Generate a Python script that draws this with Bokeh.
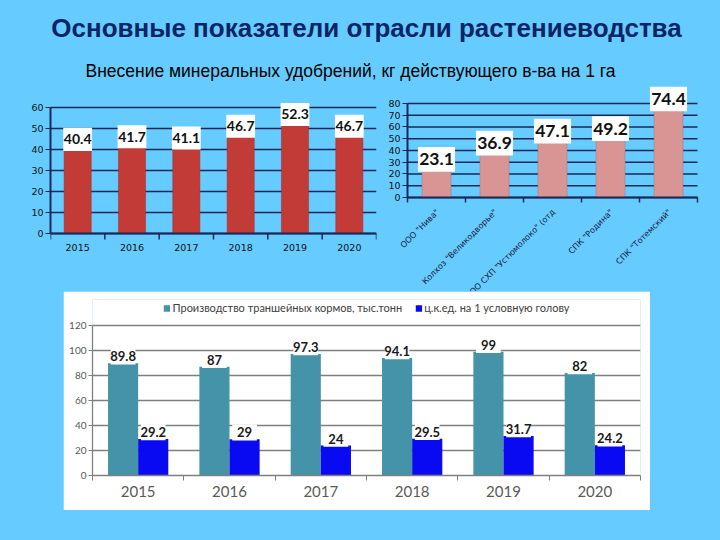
from math import pi
from bokeh.plotting import figure
from bokeh.models import Range1d, FixedTicker, Legend, LegendItem, Spacer
from bokeh.layouts import column, row
from bokeh.embed import file_html
from bokeh.resources import INLINE
from bokeh.core.properties import value

# ---------------- data ----------------
title_text = "Основные показатели отрасли растениеводства"
subtitle_text = "Внесение минеральных удобрений, кг действующего в-ва на 1 га"

years = ["2015", "2016", "2017", "2018", "2019", "2020"]
fert_by_year = [40.4, 41.7, 41.1, 46.7, 52.3, 46.7]
left_ticks = [0, 10, 20, 30, 40, 50, 60]

farms = ['ООО "Нива"', 'Колхоз "Великодворье"', 'ООО СХП "Устюмолоко" (отд',
         'СПК "Родина"', 'СПК "Тотемский"']
fert_by_farm = [23.1, 36.9, 47.1, 49.2, 74.4]
right_ticks = [0, 10, 20, 30, 40, 50, 60, 70, 80]

silage_prod = [89.8, 87, 97.3, 94.1, 99, 82]
feed_per_head = [29.2, 29, 24, 29.5, 31.7, 24.2]
bottom_ticks = [0, 20, 40, 60, 80, 100, 120]
legend_labels = ["Производство траншейных кормов, тыс.тонн",
                 "ц.к.ед. на 1 условную голову"]

# ---------------- styles ----------------
BG = "#66CCFF"
NAVY = "#0B2465"
GRIDNAVY = "#1A2757"
RED = "#C23B37"
PINK = "#D99594"
TEAL = "#4493A8"
BLUE = "#0A0AF2"
GRAY = "#7F7F7F"


def fmt(v):
    return f"{v:g}"


def base(fig, bg):
    fig.background_fill_color = bg
    fig.border_fill_color = bg
    fig.outline_line_color = None
    fig.xgrid.visible = False


def style_value_axis(ax, ticks):
    ax.ticker = FixedTicker(ticks=ticks)
    ax.bounds = (ticks[0], ticks[-1])
    ax.axis_line_color = GRIDNAVY
    ax.axis_line_width = 2
    ax.major_label_text_font = "DejaVu Sans"
    ax.major_label_text_font_size = "9.5px"
    ax.major_label_text_color = "#111111"
    ax.major_tick_line_color = GRIDNAVY
    ax.major_tick_out = 5
    ax.major_tick_in = 0
    ax.minor_tick_line_color = None
    ax.major_label_standoff = 2


def bars_and_boxes(p, xs, vals, bar_color, bar_line, box_w, box_dy, box_h, font_size):
    p.vbar(x=xs, top=vals, width=0.5, fill_color=bar_color, line_color=bar_line, line_width=0.5)
    p.rect(x=xs, y=[v + box_dy for v in vals], width=box_w, height=box_h,
           fill_color="white", line_color=None)
    p.text(x=xs, y=[v + box_dy for v in vals], text=[fmt(v) for v in vals],
           text_font=value("Lato"), text_font_style="bold", text_font_size=font_size,
           text_color="#111111", text_align="center", text_baseline="middle")


def category_base(p, n, tick_len):
    bounds = list(range(n + 1))
    p.segment(x0=[0], y0=[0], x1=[n], y1=[0], line_color=GRIDNAVY, line_width=2)
    p.segment(x0=bounds, y0=[0] * len(bounds), x1=bounds, y1=[-tick_len] * len(bounds),
              line_color=GRIDNAVY, line_width=1.5)


# ---------------- header ----------------
top = figure(width=720, height=84, x_range=Range1d(0, 720), y_range=Range1d(84, 0),
             output_backend="svg", toolbar_location=None, min_border=0,
             x_axis_location=None, y_axis_location=None)
base(top, BG)
top.grid.visible = False
top.text(x=[366], y=[27], text=[title_text], text_font=value("Liberation Sans"),
         text_font_style="bold", text_font_size="26px", text_color=NAVY,
         text_align="center", text_baseline="middle")
top.text(x=[350], y=[70], text=[subtitle_text], text_font=value("Liberation Sans"),
         text_font_size="17.5px", text_color="#000000",
         text_align="center", text_baseline="middle")

# ---------------- left chart ----------------
xl = [i + 0.5 for i in range(len(years))]
pl = figure(width=380, height=207, x_range=Range1d(0, len(years)),
            y_range=Range1d(-27.62, 70.95), output_backend="svg", toolbar_location=None,
            min_border_left=50, min_border_right=4, min_border_top=0, min_border_bottom=0,
            x_axis_location=None)
base(pl, BG)
bars_and_boxes(pl, xl, fert_by_year, RED, "#A52F2C", 0.53, 4.4, 11, "14px")
pl.ygrid.ticker = FixedTicker(ticks=left_ticks)
pl.ygrid.grid_line_color = GRIDNAVY
pl.ygrid.grid_line_width = 1.5
style_value_axis(pl.yaxis[0], left_ticks)
category_base(pl, len(years), 2.9)
pl.text(x=xl, y=[0] * len(xl), text=years, y_offset=14,
        text_font=value("DejaVu Sans"), text_font_size="9.5px", text_color="#111111",
        text_align="center", text_baseline="middle")

# ---------------- right chart ----------------
# frame spans the whole figure so that the slanted names are not cut at the axis
xr = [i + 0.5 for i in range(len(farms))]
pr = figure(width=340, height=207, x_range=Range1d(-27 / 58, len(farms) + 23 / 58),
            y_range=Range1d(-80.0, 96.17), output_backend="svg", toolbar_location=None,
            min_border=0, x_axis_location=None)
base(pr, BG)
pr.ygrid.visible = False
pr.segment(x0=[0] * len(right_ticks), y0=right_ticks, x1=[len(farms)] * len(right_ticks),
           y1=right_ticks, line_color=GRIDNAVY, line_width=1.5)
bars_and_boxes(pr, xr, fert_by_farm, PINK, "#B07372", 0.64, 9.4, 21, "17.5px")
style_value_axis(pr.yaxis[0], right_ticks)
pr.yaxis.fixed_location = 0
category_base(pr, len(farms), 4.3)
pr.text(x=xr, y=[0] * len(xr), text=farms, x_offset=1, y_offset=13, angle=pi / 4,
        text_font=value("DejaVu Sans"), text_font_size="8.2px", text_color="#1A1A40",
        text_align="right", text_baseline="middle")

# ---------------- bottom chart ----------------
xb = [i + 0.5 for i in range(len(years))]
pb = figure(width=587, height=219, x_range=Range1d(0, len(years)), y_range=Range1d(0, 140.8),
            output_backend="svg", toolbar_location=None,
            min_border_left=29, min_border_right=10, min_border_top=8, min_border_bottom=35)
base(pb, "white")
r1 = pb.vbar(x=[x - 0.165 for x in xb], top=silage_prod, width=0.33, fill_color=TEAL, line_color=None)
r2 = pb.vbar(x=[x + 0.165 for x in xb], top=feed_per_head, width=0.33, fill_color=BLUE, line_color=None)
for xs, vals in (([x - 0.165 for x in xb], silage_prod), ([x + 0.165 for x in xb], feed_per_head)):
    pb.rect(x=xs, y=[v + 5.4 for v in vals], width=0.27, height=12.8,
            fill_color="white", line_color=None)
    pb.text(x=xs, y=[v + 5.6 for v in vals], text=[fmt(v) for v in vals],
            text_font=value("Lato"), text_font_style="bold", text_font_size="13px",
            text_color="#1A1A1A", text_align="center", text_baseline="middle")
pb.ygrid.ticker = FixedTicker(ticks=bottom_ticks)
pb.ygrid.grid_line_color = GRAY
pb.ygrid.grid_line_width = 1.3
pb.yaxis.ticker = FixedTicker(ticks=bottom_ticks)
pb.yaxis.bounds = (0, 120)
pb.xaxis.ticker = FixedTicker(ticks=xb, minor_ticks=list(range(len(years) + 1)))
pb.xaxis.major_label_overrides = {x: y for x, y in zip(xb, years)}
for ax in (pb.xaxis[0], pb.yaxis[0]):
    ax.axis_line_color = GRAY
    ax.axis_line_width = 1.3
    ax.major_label_text_color = "#595959"
    ax.minor_tick_line_color = GRAY
pb.xaxis.major_tick_line_color = None
pb.xaxis.minor_tick_out = 5
pb.xaxis.minor_tick_in = 0
pb.xaxis.major_label_standoff = 4
pb.xaxis.major_label_text_font = "Lato"
pb.xaxis.major_label_text_font_size = "15px"
pb.yaxis.major_tick_line_color = GRAY
pb.yaxis.major_tick_out = 4
pb.yaxis.major_tick_in = 0
pb.yaxis.minor_tick_line_color = None
pb.yaxis.major_label_standoff = 2
pb.yaxis.major_label_text_font = "Lato"
pb.yaxis.major_label_text_font_size = "10px"
legend = Legend(items=[LegendItem(label=legend_labels[0], renderers=[r1]),
                       LegendItem(label=legend_labels[1], renderers=[r2])],
                location="top_center", orientation="horizontal",
                background_fill_alpha=0, border_line_color=None,
                glyph_width=8, glyph_height=8, label_height=12, label_standoff=2,
                spacing=12, margin=2, padding=2,
                label_text_font="Lato", label_text_font_size="11px",
                label_text_color="#404040")
pb.add_layout(legend)

# ---------------- layout ----------------
page = column(top,
              row(pl, pr),
              row(Spacer(width=63, height=219), pb, Spacer(width=70, height=219)),
              Spacer(width=720, height=30),
              styles={"background-color": BG})

open("out.html", "w").write(file_html(page, INLINE))
